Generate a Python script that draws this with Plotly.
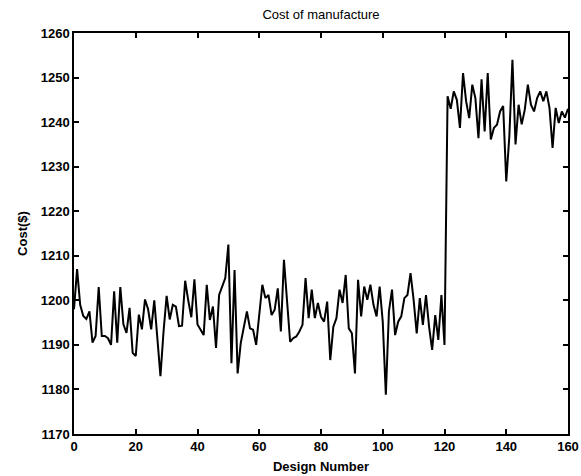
import plotly.graph_objects as go

design_number = list(range(0, 161))

cost_low_0_40 = [1198, 1207, 1199, 1196.5, 1195.8, 1197.5, 1190.5, 1192, 1203, 1192,
                 1192, 1191.5, 1190, 1202, 1190.5, 1203, 1194.6, 1192.7, 1198.3, 1188.2,
                 1187.5, 1196.8, 1193.5, 1200.2, 1198, 1193.5, 1200, 1191, 1183, 1193,
                 1201, 1195.7, 1199, 1198.6, 1194.2, 1194.3, 1204.4, 1200, 1196.2, 1204.7]
cost_low_40_80 = [1194.6, 1193.4, 1192.2, 1203.5, 1195.6, 1198.6, 1189.3, 1201.2, 1203.1, 1205,
                  1212.5, 1185.9, 1206.8, 1183.6, 1190.4, 1194.1, 1197.5, 1193.7, 1193.4, 1190,
                  1197.1, 1203.5, 1200.5, 1201.2, 1196.7, 1197.9, 1202.7, 1193, 1209.1, 1200.1,
                  1190.7, 1191.5, 1191.9, 1193, 1194.5, 1205, 1196, 1202.4, 1196, 1199.4]
cost_low_80_120 = [1196.3, 1195.2, 1199.7, 1186.6, 1194.1, 1196, 1202.4, 1199.4, 1205.7, 1193.7,
                   1192.6, 1183.6, 1204.6, 1196.4, 1203.1, 1200.1, 1203.5, 1199, 1196.4, 1203.1,
                   1195.2, 1178.8, 1197.5, 1202.4, 1192.2, 1195.2, 1196.4, 1200.5, 1201.2, 1206.1,
                   1200.1, 1192.6, 1200.5, 1194.5, 1201.2, 1194.1, 1188.9, 1196.7, 1191.1, 1201.2,
                   1190]
cost_high_121_160 = [1245.8, 1243.0, 1246.9, 1245.0, 1238.7, 1251.0, 1244.7, 1240.9, 1248.4, 1245.4,
                     1236.4, 1249.6, 1237.9, 1251.0, 1236.1, 1238.7, 1239.4, 1242.4, 1243.6, 1226.7,
                     1236.8, 1254.0, 1235.0, 1243.9, 1239.5, 1242.8, 1248.4, 1243.9, 1242.4, 1245.4,
                     1246.9, 1244.7, 1246.9, 1243.2, 1234.2, 1243.2, 1239.8, 1242.4, 1241.0, 1243.0]

cost = cost_low_0_40 + cost_low_40_80 + cost_low_80_120 + cost_high_121_160

x_ticks = [0, 20, 40, 60, 80, 100, 120, 140, 160]
y_ticks = [1170, 1180, 1190, 1200, 1210, 1220, 1230, 1240, 1250, 1260]

font_family = "Liberation Sans, Arial, sans-serif"
label_font = dict(family=font_family, size=13, color="black", weight="bold")

fig = go.Figure()
fig.add_trace(go.Scatter(x=design_number[:len(cost)], y=cost, mode="lines",
                         line=dict(color="black", width=2), showlegend=False))

axis_common = dict(
    showgrid=False, zeroline=False, showline=True, linecolor="black", linewidth=1.5,
    mirror="ticks", ticks="inside", ticklen=5, tickwidth=1.5, tickcolor="black",
    tickfont=label_font, automargin=False,
)

fig.update_layout(
    width=581, height=476,
    margin=dict(l=74, r=13, t=33, b=42),
    paper_bgcolor="white", plot_bgcolor="white",
    title=dict(text="Cost of manufacture", x=0.5, xref="paper", y=1 - 14 / 476,
               yref="container", yanchor="middle", xanchor="center",
               font=dict(family=font_family, size=13, color="black")),
    xaxis=dict(range=[0, 160], tickvals=x_ticks, ticktext=[str(v) for v in x_ticks],
               title=dict(text="Design Number", standoff=9, font=label_font),
               **axis_common),
    yaxis=dict(range=[1170, 1260], tickvals=y_ticks, ticktext=[str(v) for v in y_ticks],
               title=dict(text="Cost($)", standoff=10, font=label_font),
               **axis_common),
)

fig.write_html("out.html")
